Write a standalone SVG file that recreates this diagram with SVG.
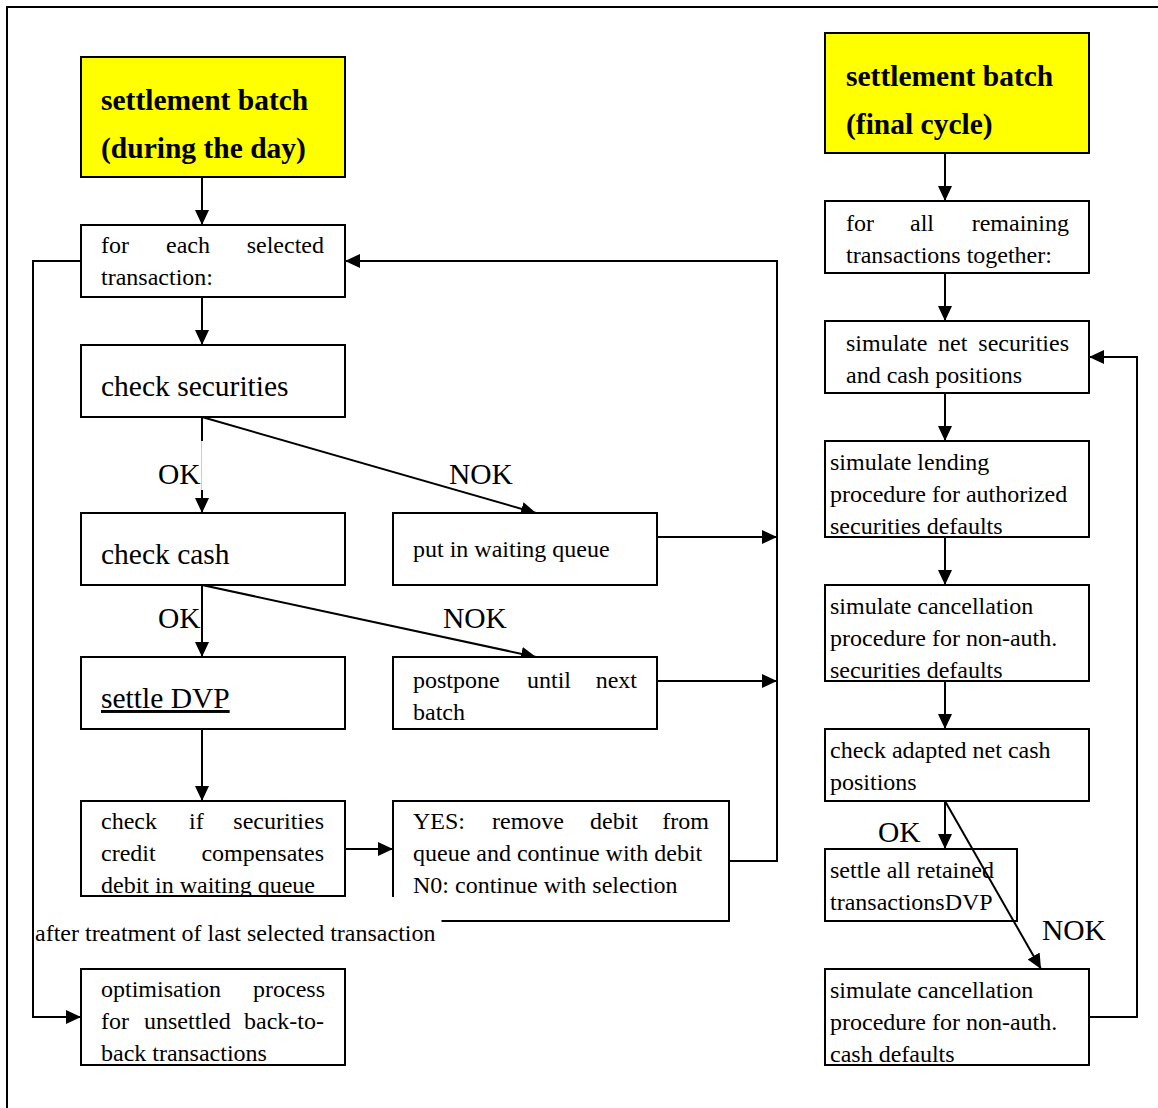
<svg xmlns="http://www.w3.org/2000/svg" width="1158" height="1108" viewBox="0 0 1158 1108">
<style>
text{font-family:"Liberation Serif","Times New Roman",serif;fill:#000}
.t{font-size:24px}
.b{font-size:29.5px}
.h{font-size:29.5px;font-weight:bold}
.box{fill:#fff;stroke:#000;stroke-width:2}
.y{fill:#ffff00;stroke:#000;stroke-width:2}
.ln{fill:none;stroke:#000;stroke-width:2}
.e{text-anchor:end}
</style>
<defs>
<marker id="ah" markerUnits="userSpaceOnUse" markerWidth="16" markerHeight="14" refX="15" refY="7" orient="auto">
<path d="M0,0 L15,7 L0,14 z" fill="#000"/>
</marker>
</defs>
<rect x="0" y="0" width="1158" height="1108" fill="#fff"/>
<rect x="7" y="7" width="1170" height="1120" fill="none" stroke="#000" stroke-width="2"/>

<g id="connectors">
<line class="ln" x1="202" y1="177" x2="202" y2="225" marker-end="url(#ah)"/>
<line class="ln" x1="202" y1="297" x2="202" y2="345" marker-end="url(#ah)"/>
<line class="ln" x1="202" y1="417" x2="202" y2="441"/>
<line x1="201.5" y1="441" x2="201.5" y2="490" stroke="#ccc" stroke-width="1"/>
<line class="ln" x1="202" y1="490" x2="202" y2="513" marker-end="url(#ah)"/>
<line class="ln" x1="202" y1="417" x2="536" y2="513" marker-end="url(#ah)"/>
<line class="ln" x1="202" y1="585" x2="202" y2="657" marker-end="url(#ah)"/>
<line class="ln" x1="202" y1="585" x2="536" y2="657" marker-end="url(#ah)"/>
<line class="ln" x1="202" y1="729" x2="202" y2="801" marker-end="url(#ah)"/>
<line class="ln" x1="345" y1="849" x2="393" y2="849" marker-end="url(#ah)"/>
<line class="ln" x1="657" y1="537" x2="777" y2="537" marker-end="url(#ah)"/>
<line class="ln" x1="657" y1="681" x2="777" y2="681" marker-end="url(#ah)"/>
<polyline class="ln" points="729,861 777,861 777,261 345,261" marker-end="url(#ah)"/>
<polyline class="ln" points="81,261 33,261 33,1017 81,1017" marker-end="url(#ah)"/>
<line class="ln" x1="945" y1="153" x2="945" y2="201" marker-end="url(#ah)"/>
<line class="ln" x1="945" y1="273" x2="945" y2="321" marker-end="url(#ah)"/>
<line class="ln" x1="945" y1="393" x2="945" y2="441" marker-end="url(#ah)"/>
<line class="ln" x1="945" y1="537" x2="945" y2="585" marker-end="url(#ah)"/>
<line class="ln" x1="945" y1="681" x2="945" y2="729" marker-end="url(#ah)"/>
<line class="ln" x1="945" y1="801" x2="945" y2="849" marker-end="url(#ah)"/>
<polyline class="ln" points="1089,1017 1137,1017 1137,357 1089,357" marker-end="url(#ah)"/>
</g>

<g id="n-batch-day">
<rect class="y" x="81" y="57" width="264" height="120"/>
<text class="h" x="101" y="110">settlement batch</text>
<text class="h" x="101" y="158">(during the day)</text>
</g>
<g id="n-for-each">
<rect class="box" x="81" y="225" width="264" height="72"/>
<text class="t" x="101" y="253">for</text>
<text class="t" x="166" y="253">each</text>
<text class="t e" x="324" y="253">selected</text>
<text class="t" x="101" y="285">transaction:</text>
</g>
<g id="n-check-sec">
<rect class="box" x="81" y="345" width="264" height="72"/>
<text class="b" x="101" y="396">check securities</text>
</g>
<g id="n-check-cash">
<rect class="box" x="81" y="513" width="264" height="72"/>
<text class="b" x="101" y="564">check cash</text>
</g>
<g id="n-waiting">
<rect class="box" x="393" y="513" width="264" height="72"/>
<text class="t" x="413" y="557">put in waiting queue</text>
</g>
<g id="n-settle-dvp">
<rect class="box" x="81" y="657" width="264" height="72"/>
<text class="b" x="101" y="708" text-decoration="underline">settle DVP</text>
</g>
<g id="n-postpone">
<rect class="box" x="393" y="657" width="264" height="72"/>
<text class="t" x="413" y="688">postpone</text>
<text class="t" x="527" y="688">until</text>
<text class="t e" x="637" y="688">next</text>
<text class="t" x="413" y="720">batch</text>
</g>
<g id="n-check-if">
<rect class="box" x="81" y="801" width="264" height="95"/>
<text class="t" x="101" y="829">check</text>
<text class="t" x="189" y="829">if</text>
<text class="t e" x="324" y="829">securities</text>
<text class="t" x="101" y="861">credit</text>
<text class="t e" x="324" y="861">compensates</text>
<text class="t" x="101" y="893">debit in waiting queue</text>
</g>
<g id="n-yes">
<rect class="box" x="393" y="801" width="336" height="120"/>
<text class="t" x="413" y="829">YES:</text>
<text class="t" x="492" y="829">remove</text>
<text class="t" x="590" y="829">debit</text>
<text class="t e" x="709" y="829">from</text>
<text class="t" x="413" y="861">queue and continue with debit</text>
<text class="t" x="413" y="893">N0: continue with selection</text>
</g>
<g id="label-after">
<rect x="34.5" y="897" width="407" height="50" fill="#fff"/>
<text class="t" x="35" y="941">after treatment of last selected transaction</text>
</g>
<g id="n-optimisation">
<rect class="box" x="81" y="969" width="264" height="96"/>
<text class="t" x="101" y="997">optimisation</text>
<text class="t e" x="325" y="997">process</text>
<text class="t" x="101" y="1029">for</text>
<text class="t" x="144" y="1029">unsettled</text>
<text class="t e" x="324" y="1029">back-to-</text>
<text class="t" x="101" y="1061">back transactions</text>
</g>

<g id="n-batch-final">
<rect class="y" x="825" y="33" width="264" height="120"/>
<text class="h" x="846" y="86">settlement batch</text>
<text class="h" x="846" y="134">(final cycle)</text>
</g>
<g id="n-for-all">
<rect class="box" x="825" y="201" width="264" height="72"/>
<text class="t" x="846" y="231">for</text>
<text class="t" x="910" y="231">all</text>
<text class="t e" x="1069" y="231">remaining</text>
<text class="t" x="846" y="263">transactions together:</text>
</g>
<g id="n-simulate-net">
<rect class="box" x="825" y="321" width="264" height="72"/>
<text class="t" x="846" y="351">simulate</text>
<text class="t" x="938" y="351">net</text>
<text class="t e" x="1069" y="351">securities</text>
<text class="t" x="846" y="383">and cash positions</text>
</g>
<g id="n-lending">
<rect class="box" x="825" y="441" width="264" height="96"/>
<text class="t" x="830" y="470">simulate lending</text>
<text class="t" x="830" y="502">procedure for authorized</text>
<text class="t" x="830" y="534">securities defaults</text>
</g>
<g id="n-cancel-sec">
<rect class="box" x="825" y="585" width="264" height="96"/>
<text class="t" x="830" y="614">simulate cancellation</text>
<text class="t" x="830" y="646">procedure for non-auth.</text>
<text class="t" x="830" y="678">securities defaults</text>
</g>
<g id="n-check-adapted">
<rect class="box" x="825" y="729" width="264" height="72"/>
<text class="t" x="830" y="758">check adapted net cash</text>
<text class="t" x="830" y="790">positions</text>
</g>
<g id="n-settle-all">
<rect class="box" x="825" y="849" width="192" height="72"/>
<text class="t" x="830" y="878">settle all retained</text>
<text class="t" x="830" y="910">transactionsDVP</text>
</g>
<g id="n-cancel-cash">
<rect class="box" x="825" y="969" width="264" height="96"/>
<text class="t" x="830" y="998">simulate cancellation</text>
<text class="t" x="830" y="1030">procedure for non-auth.</text>
<text class="t" x="830" y="1062">cash defaults</text>
</g>

<g id="connector-over">
<line class="ln" x1="945" y1="801" x2="1041" y2="969" marker-end="url(#ah)"/>
</g>

<g id="labels">
<text class="b" x="158" y="484">OK</text>
<text class="b" x="449" y="484">NOK</text>
<text class="b" x="158" y="628">OK</text>
<text class="b" x="443" y="628">NOK</text>
<text class="b" x="878" y="842">OK</text>
<text class="b" x="1042" y="940">NOK</text>
</g>
</svg>
